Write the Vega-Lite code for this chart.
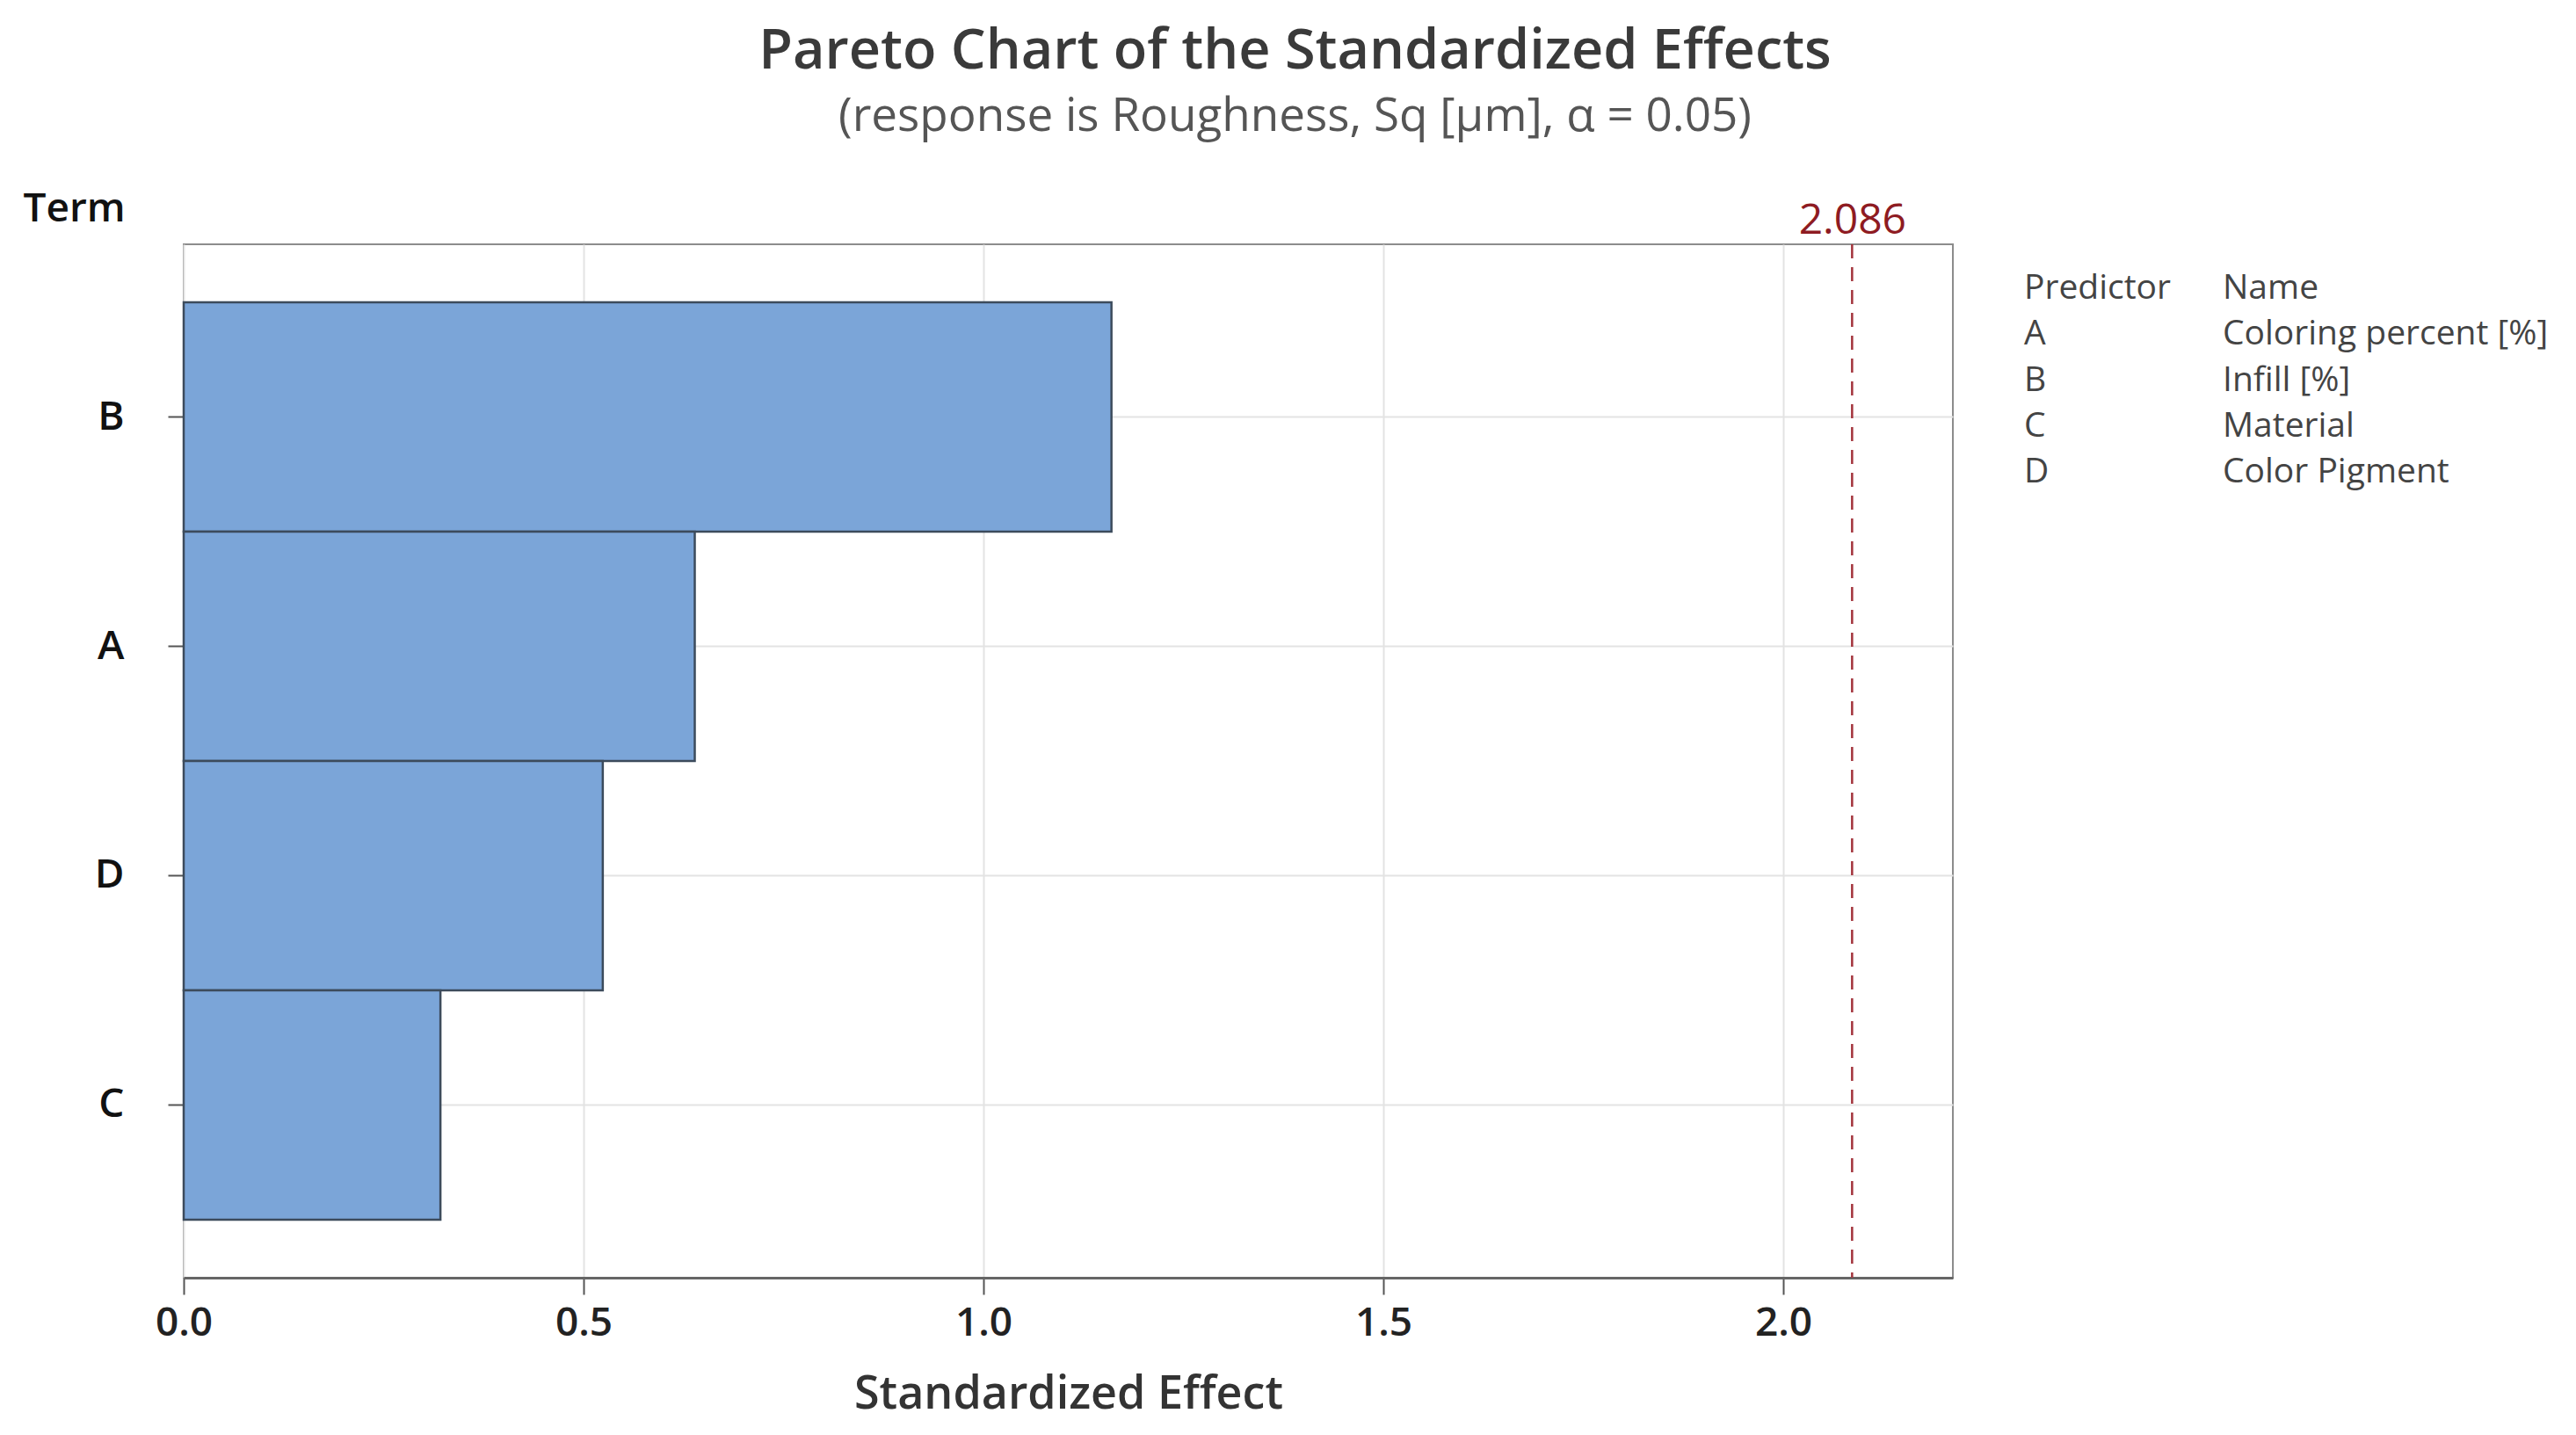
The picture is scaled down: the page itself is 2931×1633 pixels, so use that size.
{
  "$schema": "https://vega.github.io/schema/vega-lite/v6.json",
  "autosize": {"type": "none"},
  "width": 2013,
  "height": 1176,
  "padding": {"left": 209, "top": 278, "right": 709, "bottom": 179},
  "background": "white",
  "config": {"font": "Open Sans", "view": {"stroke": "#8c8c8c", "strokeWidth": 2}},
  "title": {
    "text": "Pareto Chart of the Standardized Effects",
    "subtitle": "(response is Roughness, Sq [µm], α = 0.05)",
    "anchor": "middle",
    "frame": "group",
    "dx": 258,
    "offset": 54,
    "font": "Open Sans",
    "fontSize": 63,
    "fontWeight": 600,
    "color": "#3a3a3a",
    "subtitleFont": "Open Sans",
    "subtitleFontSize": 53,
    "subtitleColor": "#555555",
    "subtitlePadding": 16
  },
  "datasets": {
    "effects": [
      {"term": "B", "effect": 1.160},
      {"term": "A", "effect": 0.639},
      {"term": "D", "effect": 0.524},
      {"term": "C", "effect": 0.321}
    ],
    "critical": [{"value": 2.086}],
    "predictors": [
      {"row": 0, "col": "Predictor", "label": "Predictor"},
      {"row": 0, "col": "Name", "label": "Name"},
      {"row": 1, "col": "Predictor", "label": "A"},
      {"row": 1, "col": "Name", "label": "Coloring percent [%]"},
      {"row": 2, "col": "Predictor", "label": "B"},
      {"row": 2, "col": "Name", "label": "Infill [%]"},
      {"row": 3, "col": "Predictor", "label": "C"},
      {"row": 3, "col": "Name", "label": "Material"},
      {"row": 4, "col": "Predictor", "label": "D"},
      {"row": 4, "col": "Name", "label": "Color Pigment"}
    ]
  },
  "layer": [
    {
      "data": {"name": "effects"},
      "mark": {"type": "bar", "fill": "#7ba5d8", "stroke": "#3c4b5c", "strokeWidth": 2.5},
      "encoding": {
        "y": {
          "field": "term", "type": "nominal", "sort": ["B", "A", "D", "C"],
          "scale": {"paddingInner": 0, "paddingOuter": 0.253},
          "axis": {
            "title": "Term", "titleAngle": 0, "titleAlign": "left", "titleBaseline": "alphabetic",
            "titleX": -183, "titleY": -27, "titleFontSize": 46, "titleFontWeight": 600, "titleColor": "#111111",
            "labelFontSize": 46, "labelFontWeight": 600, "labelColor": "#111111", "labelPadding": 50,
            "tickSize": 18, "tickColor": "#555555", "tickWidth": 2, "domain": false,
            "grid": true, "gridColor": "#e3e3e3", "gridWidth": 2
          }
        },
        "x": {
          "field": "effect", "type": "quantitative",
          "scale": {"domain": [0, 2.212], "nice": false, "zero": true},
          "axis": {
            "values": [0, 0.5, 1, 1.5, 2], "format": ".1f", "title": "Standardized Effect",
            "labelFontSize": 46, "labelFontWeight": 600, "labelColor": "#222222", "labelFlush": false,
            "tickSize": 19, "tickWidth": 2, "tickColor": "#555555", "labelPadding": 10,
            "titleFontSize": 52, "titleFontWeight": 600, "titleColor": "#333333", "titlePadding": 33,
            "domainColor": "#666666", "domainWidth": 3,
            "grid": true, "gridColor": "#e3e3e3", "gridWidth": 2
          }
        }
      }
    },
    {
      "data": {"name": "critical"},
      "mark": {"type": "rule", "color": "#a3343c", "strokeWidth": 2.5, "strokeDash": [16, 10]},
      "encoding": {
        "x": {
          "field": "value", "type": "quantitative",
          "scale": {"domain": [0, 2.212], "nice": false, "zero": true},
          "axis": {
            "orient": "top", "values": [2.086], "format": ".3f", "title": null, "ticks": false,
            "domain": false, "grid": false, "labelColor": "#8e1b22", "labelFontSize": 48,
            "labelPadding": 3, "labelFlush": false, "labelFontWeight": 500
          }
        }
      }
    },
    {
      "data": {"name": "predictors"},
      "mark": {"type": "text", "align": "left", "baseline": "middle", "fontSize": 39, "color": "#444444", "font": "Open Sans"},
      "encoding": {
        "x": {"field": "col", "type": "nominal", "scale": {"type": "point", "domain": ["Predictor", "Name"], "range": [2094, 2320], "padding": 0}, "axis": null},
        "y": {"field": "row", "type": "ordinal", "scale": {"type": "point", "domain": [0, 1, 2, 3, 4], "range": [50, 259], "padding": 0}, "axis": null},
        "text": {"field": "label"}
      }
    }
  ],
  "resolve": {"scale": {"x": "independent", "y": "independent"}, "axis": {"x": "independent", "y": "independent"}}
}
